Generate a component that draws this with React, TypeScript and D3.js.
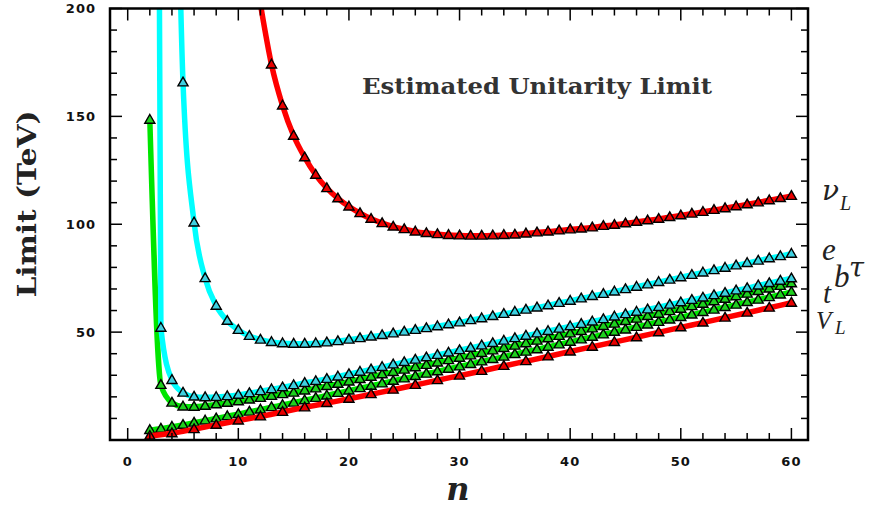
import React from "react";
import * as d3 from "d3";

const W = 874;
const H = 508;

// ---- data ----
const xTickLabels = [0, 10, 20, 30, 40, 50, 60];
const yTickLabels = [50, 100, 150, 200];

// nu_L (red, upper): n = 12..60
const nuLStart = 12;
const nuLVals = [202, 174, 155, 141, 131, 122.9, 116.7, 112.0, 108.2, 105.1, 102.5, 100.5, 98.9, 97.7, 96.6, 95.9, 95.4, 95.0, 94.8, 94.7, 94.7, 94.8, 95.0, 95.2, 95.7, 96.2, 96.6, 97.1, 97.6, 98.0, 98.5, 99.2, 99.7, 100.4, 101.1, 101.8, 102.5, 103.3, 104.1, 104.9, 105.7, 106.6, 107.4, 108.3, 109.2, 110.1, 111.1, 112.1, 113.1];

// e (cyan, upper): n = 4..60
const eStart = 4;
const eVals = [420, 165.7, 100.8, 75.0, 62.2, 55.2, 51.0, 48.2, 46.5, 45.4, 44.8, 44.6, 44.6, 44.8, 45.2, 45.8, 46.5, 47.2, 47.9, 48.6, 49.4, 50.2, 51.0, 51.8, 52.7, 53.6, 54.5, 55.5, 56.4, 57.4, 58.4, 59.4, 60.4, 61.4, 62.4, 63.5, 64.5, 65.6, 66.7, 67.7, 68.8, 69.9, 71.0, 72.1, 73.2, 74.3, 75.4, 76.5, 77.6, 78.7, 79.8, 80.9, 82.0, 83.1, 84.2, 85.2, 86.3];

// tau (cyan, lower): n = 2..60
const tauStart = 2;
const tauVals = [1200, 52.0, 27.8, 21.9, 20.1, 19.8, 19.9, 20.3, 20.9, 21.7, 22.6, 23.5, 24.4, 25.4, 26.4, 27.3, 28.3, 29.4, 30.5, 31.6, 32.7, 33.8, 35.0, 36.1, 37.2, 38.3, 39.4, 40.5, 41.6, 42.7, 43.8, 44.9, 46.0, 47.2, 48.3, 49.4, 50.5, 51.6, 52.7, 53.8, 54.9, 56.0, 57.2, 58.3, 59.4, 60.5, 61.6, 62.7, 63.8, 64.9, 66.0, 67.1, 68.2, 69.3, 70.4, 71.6, 72.7, 73.8, 74.9];

// b (green, upper): n = 2..60
const bStart = 2;
const bVals = [148.4, 25.5, 17.3, 15.5, 15.4, 15.8, 16.5, 17.2, 17.9, 18.7, 19.5, 20.4, 21.2, 21.9, 22.9, 23.9, 25.0, 26.0, 27.1, 28.2, 29.3, 30.4, 31.5, 32.6, 33.7, 34.8, 35.9, 37.0, 38.1, 39.2, 40.3, 41.5, 42.6, 43.7, 44.8, 46.0, 47.1, 48.2, 49.4, 50.5, 51.7, 52.8, 53.9, 55.1, 56.2, 57.4, 58.5, 59.7, 60.8, 62.0, 63.1, 64.3, 65.4, 66.6, 67.8, 69.0, 70.2, 71.4, 72.6];

// t (green, lower): n = 2..60
const tStart = 2;
const tVals = [4.6, 5.2, 6.1, 7.0, 8.0, 9.0, 10.0, 11.0, 12.0, 13.1, 14.1, 15.2, 16.2, 17.3, 18.4, 19.5, 20.6, 21.8, 22.9, 24.0, 25.1, 26.2, 27.4, 28.5, 29.6, 30.7, 31.8, 33.0, 34.1, 35.2, 36.4, 37.5, 38.6, 39.8, 40.9, 42.0, 43.2, 44.3, 45.5, 46.6, 47.8, 48.9, 50.1, 51.2, 52.4, 53.5, 54.7, 55.8, 57.0, 58.1, 59.3, 60.4, 61.6, 62.7, 63.9, 65.0, 66.2, 67.4, 68.6];

// V_L (red, lower): n = 2,4,..,60
const vLStart = 2;
const vLVals = [1.9, 3.1, 5.0, 7.0, 9.0, 10.9, 13.0, 15.1, 17.1, 19.1, 21.2, 23.3, 25.5, 27.7, 29.8, 32.0, 34.3, 36.5, 38.7, 41.0, 43.2, 45.4, 47.6, 49.9, 52.2, 54.4, 56.7, 59.0, 61.3, 63.6];

type Pt = { n: number; v: number };
const toPts = (start: number, step: number, vals: number[]): Pt[] =>
  vals.map((v, i) => ({ n: start + i * step, v }));

const series = [
  { name: "t", pts: toPts(tStart, 1, tVals), line: "#00e600", fill: "#1fd01f" },
  { name: "b", pts: toPts(bStart, 1, bVals), line: "#00e600", fill: "#1fd01f" },
  { name: "VL", pts: toPts(vLStart, 2, vLVals), line: "#ff0000", fill: "#e80000" },
  { name: "tau", pts: toPts(tauStart, 1, tauVals), line: "#00ffff", fill: "#3ed0e0" },
  { name: "e", pts: toPts(eStart, 1, eVals), line: "#00ffff", fill: "#3ed0e0" },
  { name: "nuL", pts: toPts(nuLStart, 1, nuLVals), line: "#ff0000", fill: "#e80000" },
];

const L = 110, R = 808, T = 8.5, B = 440;
const x = d3.scaleLinear().domain([-1.6, 61.5]).range([L, R]);
const y = d3.scaleLinear().domain([0, 200]).range([B, T]);

const line = d3
  .line<Pt>()
  .x((d) => x(d.n))
  .y((d) => y(d.v))
  .curve(d3.curveMonotoneX);

const tri = d3.symbol().type(d3.symbolTriangle).size(44)() as string;

const xMinor = d3.range(0, 61, 2);
const yMinor = d3.range(0, 201, 10);

export default function App() {
  const tickFont = {
    fontFamily: "'DejaVu Sans', sans-serif",
    fontWeight: 700,
    fontSize: 13,
    letterSpacing: 1,
  } as React.CSSProperties;
  const labIt = {
    fontFamily: "'Liberation Serif', 'DejaVu Serif', serif",
    fontStyle: "italic",
  } as React.CSSProperties;
  const greekIt = {
    fontFamily: "'DejaVu Serif', serif",
    fontStyle: "italic",
  } as React.CSSProperties;
  return (
    <svg width={W} height={H} style={{ position: "absolute", left: 0, top: 0, background: "#fff" }}>
      <defs>
        <clipPath id="plot">
          <rect x={L} y={T} width={R - L} height={B - T} />
        </clipPath>
      </defs>
      <rect x={0} y={0} width={W} height={H} fill="#fff" />

      <g clipPath="url(#plot)">
        {series.map((s) => (
          <g key={s.name}>
            <path d={line(s.pts) || ""} fill="none" stroke={s.line} strokeWidth={5.5} strokeLinejoin="round" />
            {s.pts
              .filter((p) => p.v <= 200)
              .map((p, i) => (
                <path
                  key={i}
                  d={tri}
                  transform={`translate(${x(p.n)},${y(p.v) + 0.5})`}
                  fill={s.fill}
                  stroke="#000"
                  strokeWidth={1.4}
                />
              ))}
          </g>
        ))}
      </g>

      {/* ticks */}
      <g stroke="#000" strokeWidth={1.5}>
        {xMinor.map((v) => {
          const len = v % 10 === 0 ? 12 : 7;
          return (
            <g key={"x" + v}>
              <line x1={x(v)} x2={x(v)} y1={B} y2={B - len} />
              <line x1={x(v)} x2={x(v)} y1={T} y2={T + len} />
            </g>
          );
        })}
        {yMinor.map((v) => {
          const len = v % 50 === 0 ? 12 : 7;
          return (
            <g key={"y" + v}>
              <line x1={L} x2={L + len} y1={y(v)} y2={y(v)} />
              <line x1={R} x2={R - len} y1={y(v)} y2={y(v)} />
            </g>
          );
        })}
      </g>
      <rect x={L} y={T} width={R - L} height={B - T} fill="none" stroke="#000" strokeWidth={2.5} />

      {/* tick labels */}
      {xTickLabels.map((v) => (
        <text key={"xl" + v} x={x(v)} y={466} textAnchor="middle" style={tickFont} fill="#111">
          {v}
        </text>
      ))}
      {yTickLabels.map((v) => (
        <text key={"yl" + v} x={96} y={y(v) + 4.7} textAnchor="end" style={tickFont} fill="#111">
          {v}
        </text>
      ))}

      {/* axis titles */}
      <text
        transform="translate(36,204) rotate(-90)"
        textAnchor="middle"
        textLength={187}
        lengthAdjust="spacingAndGlyphs"
        style={{ fontFamily: "'DejaVu Serif', serif", fontWeight: 700, fontSize: 26 }}
        fill="#222"
      >
        Limit (TeV)
      </text>
      <text x={458} y={500} textAnchor="middle" style={{ fontFamily: "'DejaVu Serif', serif", fontStyle: "italic", fontWeight: 700, fontSize: 32 }} fill="#222">
        n
      </text>
      <text
        x={537}
        y={94}
        textAnchor="middle"
        textLength={350}
        lengthAdjust="spacingAndGlyphs"
        style={{ fontFamily: "'DejaVu Serif', serif", fontWeight: 700, fontSize: 23 }}
        fill="#333"
      >
        Estimated Unitarity Limit
      </text>

      {/* series labels */}
      <g fill="#222">
        <text x={822} y={200} fontSize={28} style={greekIt}>ν</text>
        <text x={840} y={210} fontSize={20} style={labIt}>L</text>
        <text x={822} y={260} fontSize={31} style={labIt}>e</text>
        <text x={834} y={287} fontSize={31} style={labIt}>b</text>
        <text x={849} y={277} fontSize={27} style={greekIt}>τ</text>
        <text x={823} y={303} fontSize={29} style={labIt}>t</text>
        <text x={816} y={329} fontSize={25} style={labIt}>V</text>
        <text x={835} y={334} fontSize={19} style={labIt}>L</text>
      </g>
    </svg>
  );
}
